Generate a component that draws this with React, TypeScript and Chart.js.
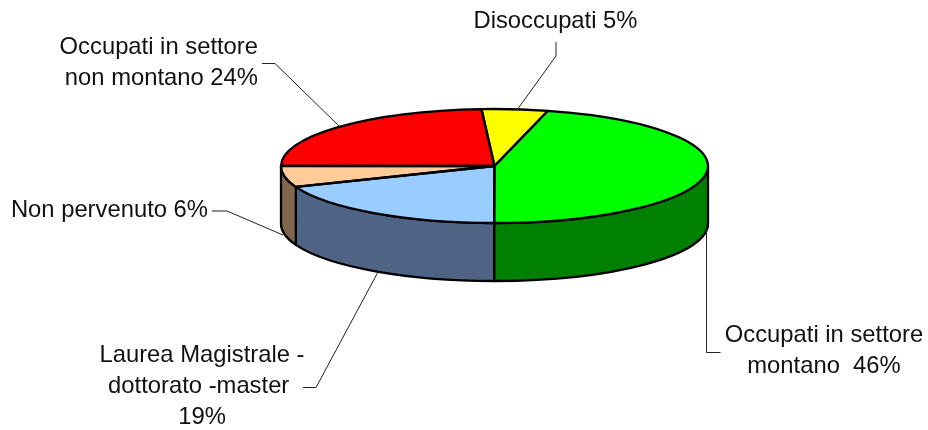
import React, { useEffect, useRef } from "react";
import { Chart, registerables } from "chart.js";

Chart.register(...registerables);

const categories = ["Disoccupati", "Occupati in settore montano", "Laurea Magistrale - dottorato - master", "Non pervenuto", "Occupati in settore non montano"];
const values = [5, 46, 19, 6, 24];
const topColors = ["#ffff00", "#00ff00", "#99ccff", "#ffcc99", "#ff0000"];
const sideColors = ["#808000", "#008000", "#4f6484", "#80664d", "#800000"];

const SQUASH = 57 / 213.5;
const CENTER_Y = 166;
const DEPTH = 58;
const FONT = '23.8px "Liberation Sans"';

const textBlocks = [
  { lines: ["Disoccupati 5%"], x: 555.5, y: [28], align: "center" },
  { lines: ["Occupati in settore", "non montano 24%"], x: 258, y: [54, 85], align: "right" },
  { lines: ["Non pervenuto 6%"], x: 208, y: [217], align: "right" },
  { lines: ["Occupati in settore", "montano  46%"], x: 824, y: [342, 373], align: "center" },
  { lines: ["Laurea Magistrale -", "dottorato -master ", "19%"], x: 202, y: [362, 393, 424], align: "center" },
];

const leaders = [
  [[556, 42], [556, 56], [517, 110]],
  [[262, 63.5], [275, 63.5], [340, 127]],
  [[212, 211], [227, 211], [283, 235]],
  [[720.5, 352.5], [706.5, 352.5], [706.5, 228]],
  [[303, 387.5], [316, 387.5], [378, 272]],
];

const pie3d = {
  id: "pie3d",
  beforeDatasetsDraw(chart: any) {
    const ctx = chart.ctx;
    const arcs = chart.getDatasetMeta(0).data;
    ctx.save();
    ctx.strokeStyle = "#000";
    ctx.lineWidth = 2.3;
    ctx.lineJoin = "round";
    arcs.forEach((el: any, i: number) => {
      const a = Math.max(el.startAngle, 0);
      const b = Math.min(el.endAngle, Math.PI);
      if (b <= a) return;
      const rx = el.outerRadius;
      const ry = rx * SQUASH;
      ctx.beginPath();
      ctx.ellipse(el.x, CENTER_Y, rx, ry, 0, a, b, false);
      ctx.ellipse(el.x, CENTER_Y + DEPTH, rx, ry, 0, b, a, true);
      ctx.closePath();
      ctx.fillStyle = sideColors[i];
      ctx.fill();
      ctx.stroke();
    });
    ctx.restore();
  },
  beforeDatasetDraw(chart: any) {
    const el = chart.getDatasetMeta(0).data[0];
    const ctx = chart.ctx;
    ctx.save();
    ctx.translate(0, CENTER_Y);
    ctx.scale(1, SQUASH);
    ctx.translate(0, -el.y);
  },
  afterDatasetDraw(chart: any) {
    const ctx = chart.ctx;
    ctx.restore();
    ctx.save();
    ctx.strokeStyle = "#000";
    ctx.lineWidth = 2.3;
    ctx.lineJoin = "round";
    chart.getDatasetMeta(0).data.forEach((el: any) => {
      const rx = el.outerRadius;
      ctx.beginPath();
      ctx.moveTo(el.x, CENTER_Y);
      ctx.ellipse(el.x, CENTER_Y, rx, rx * SQUASH, 0, el.startAngle, el.endAngle, false);
      ctx.closePath();
      ctx.stroke();
    });
    ctx.restore();
  },
  afterDraw(chart: any) {
    const ctx = chart.ctx;
    ctx.save();
    ctx.strokeStyle = "#222";
    ctx.lineWidth = 1;
    leaders.forEach((pts) => {
      ctx.beginPath();
      pts.forEach(([x, y], i) => (i ? ctx.lineTo(x, y) : ctx.moveTo(x, y)));
      ctx.stroke();
    });
    ctx.fillStyle = "#111";
    ctx.font = FONT;
    ctx.textBaseline = "alphabetic";
    textBlocks.forEach((b) => {
      ctx.textAlign = b.align;
      b.lines.forEach((line, i) => ctx.fillText(line, b.x, b.y[i]));
    });
    ctx.restore();
  },
};

export default function App() {
  const ref = useRef<HTMLCanvasElement>(null);
  useEffect(() => {
    const chart = new Chart(ref.current as HTMLCanvasElement, {
      type: "pie",
      data: {
        labels: categories,
        datasets: [{ data: values, backgroundColor: topColors, borderWidth: 0 }],
      },
      options: {
        animation: false,
        responsive: false,
        rotation: -3.5,
        layout: { padding: { left: 281, right: 220, top: 0, bottom: 3 } },
        plugins: { legend: { display: false }, tooltip: { enabled: false } },
      },
      plugins: [pie3d],
    } as any);
    return () => chart.destroy();
  }, []);
  return (
    <div style={{ position: "absolute", left: 0, top: 0, width: 928, height: 430, background: "#fff" }}>
      <canvas ref={ref} width={928} height={430} style={{ display: "block" }} />
    </div>
  );
}
